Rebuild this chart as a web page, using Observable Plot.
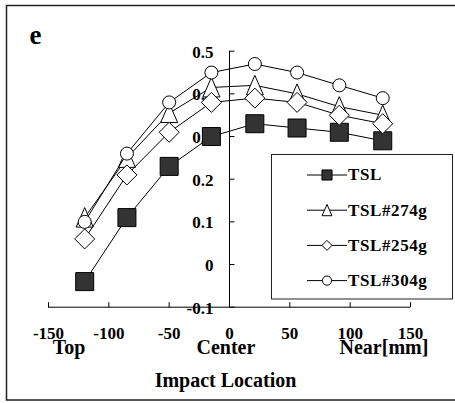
<!DOCTYPE html>
<html>
<head>
<meta charset="utf-8">
<script src="https://cdn.jsdelivr.net/npm/d3@7"></script>
<script src="https://cdn.jsdelivr.net/npm/@observablehq/plot@0.6"></script>
<style>
  html, body { margin: 0; padding: 0; background: #fff; }
  svg text { font-family: "Liberation Serif", "Times New Roman", serif; font-weight: bold; }
</style>
</head>
<body>
<div id="chart"></div>
<script>
// ---- data ----
const xPositions = [-120, -85, -50, -15, 21, 56, 91, 127];
const tslValues    = [-0.04, 0.11, 0.23, 0.30, 0.33, 0.32, 0.31, 0.29];
const tsl274Values = [0.11, 0.25, 0.355, 0.415, 0.42, 0.40, 0.37, 0.35];
const tsl254Values = [0.06, 0.21, 0.31, 0.38, 0.39, 0.38, 0.35, 0.33];
const tsl304Values = [0.10, 0.26, 0.38, 0.45, 0.47, 0.45, 0.42, 0.39];
const seriesNames = ["TSL", "TSL#274g", "TSL#254g", "TSL#304g"];
const xTicks = [-150, -100, -50, 0, 50, 100, 150];
const xTickLabels = ["-150", "-100", "-50", "0", "50", "100", "150"];
const yTicks = [-0.1, 0, 0.1, 0.2, 0.3, 0.4, 0.5];
const yTickLabels = ["-0.1", "0", "0.1", "0.2", "0.3", "0.4", "0.5"];
const locationLabels = ["Top", "Center", "Near[mm]"];
const locationPositions = [-133, -3, 128];
const xTitle = "Impact Location";
const panelLabel = "e";

// ---- symbols ----
const squareSym = {draw(ctx, size) { const r = Math.sqrt(size / Math.PI) * 0.9; ctx.rect(-r, -r, 2 * r, 2 * r); }};
const triSym = {draw(ctx, size) { const r = Math.sqrt(size / Math.PI); ctx.moveTo(0, -r); ctx.lineTo(0.85 * r, 0.95 * r); ctx.lineTo(-0.85 * r, 0.95 * r); ctx.closePath(); }};
const diaSym = {draw(ctx, size) { const r = Math.sqrt(size / Math.PI); ctx.moveTo(0, -r); ctx.lineTo(r, 0); ctx.lineTo(0, r); ctx.lineTo(-r, 0); ctx.closePath(); }};
const tickUp = {draw(ctx) { ctx.moveTo(0, 0); ctx.lineTo(0, -5); }};
const tickRight = {draw(ctx) { ctx.moveTo(0, 0); ctx.lineTo(5, 0); }};

const seriesValues = [tslValues, tsl274Values, tsl254Values, tsl304Values];
const seriesSymbols = [squareSym, triSym, diaSym, "circle"];
const seriesFill = ["#333333", "white", "white", "white"];
const seriesR = [10, 10, 10, 6.5];
const legendR = [5.6, 5.8, 5, 4.6];

const rows = seriesNames.map((name, s) => xPositions.map((x, i) => ({series: name, x, y: seriesValues[s][i]})));

const txt = {fontWeight: "bold", fill: "black", lineAnchor: "middle"};
const marks = [
  Plot.ruleY([-0.1], {stroke: "black", strokeWidth: 1}),
  Plot.ruleX([0], {stroke: "black", strokeWidth: 1}),
  Plot.dot(xTicks, {x: d => d, frameAnchor: "bottom", symbol: tickUp, r: 3, fill: "none", stroke: "black", strokeWidth: 1}),
  Plot.dot(yTicks, {y: d => d, x: () => 0, symbol: tickRight, r: 3, fill: "none", stroke: "black", strokeWidth: 1}),
  Plot.text(yTicks, {...txt, y: d => d, x: () => 0, text: (d, i) => yTickLabels[i], textAnchor: "end", dx: -16, dy: 1, fontSize: 17}),
  Plot.text(xTicks, {...txt, x: d => d, frameAnchor: "bottom", text: (d, i) => xTickLabels[i], dy: 26, fontSize: 17}),
  Plot.text(locationLabels, {...txt, x: (d, i) => locationPositions[i], frameAnchor: "bottom", text: d => d, dy: 40, fontSize: 20}),
  Plot.text([xTitle], {...txt, frameAnchor: "bottom", text: d => d, dx: -4, dy: 73, fontSize: 20}),
  Plot.text([panelLabel], {...txt, frameAnchor: "top-left", text: d => d, textAnchor: "start", dx: -19, dy: -16, fontSize: 27})
];
rows.forEach((data, s) => {
  marks.push(Plot.line(data, {x: "x", y: "y", stroke: "black", strokeWidth: 1}));
  marks.push(Plot.dot(data, {x: "x", y: "y", symbol: seriesSymbols[s], r: seriesR[s], fill: seriesFill[s], stroke: "black", strokeWidth: 1}));
});

const svg = Plot.plot({
  width: 455,
  height: 403,
  marginLeft: 48,
  marginRight: 45,
  marginTop: 50.7,
  marginBottom: 96.3,
  x: {domain: [-150, 150], axis: null},
  y: {domain: [-0.1, 0.5], axis: null},
  style: {background: "white", fontFamily: "Liberation Serif", fontWeight: "bold", overflow: "visible"},
  marks
});

// outer frame and legend box
const g = d3.select(svg);
g.insert("rect", ":first-child")
  .attr("x", 6.5).attr("y", 5.5).attr("width", 470).attr("height", 394.5)
  .attr("fill", "none").attr("stroke", "#222").attr("stroke-width", 1.5);

const leg = g.append("g");
leg.append("rect").attr("x", 271.5).attr("y", 154.5).attr("width", 181).attr("height", 144.5)
  .attr("fill", "white").attr("stroke", "#222").attr("stroke-width", 1);
seriesNames.forEach((name, s) => {
  const cy = 175 + s * 35.2;
  leg.append("line").attr("x1", 307).attr("x2", 347).attr("y1", cy).attr("y2", cy).attr("stroke", "black");
  const sym = seriesSymbols[s] === "circle" ? d3.symbolCircle : seriesSymbols[s];
  const r = legendR[s];
  leg.append("path").attr("transform", `translate(327,${cy})`)
    .attr("d", d3.symbol(sym, r * r * Math.PI)())
    .attr("fill", seriesFill[s]).attr("stroke", "black");
  leg.append("text").attr("x", 348).attr("y", cy).attr("dy", "0.32em")
    .attr("text-anchor", "start")
    .attr("font-size", 17).attr("letter-spacing", "0.6px").attr("fill", "black").text(name);
});

document.getElementById("chart").appendChild(svg);
</script>
</body>
</html>
